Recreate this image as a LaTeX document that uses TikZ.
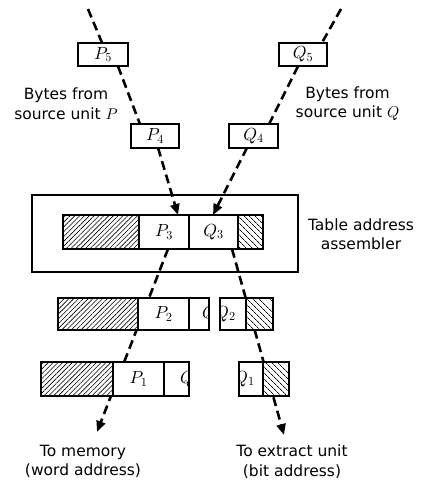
\documentclass[tikz,border=0pt]{standalone}
\usepackage{fontspec}
\setmainfont{DejaVu Sans}
\DeclareFontShape{OML}{cmm}{m}{it}{<->cmmi10}{}
\DeclareFontShape{OT1}{cmr}{m}{n}{<->cmr10}{}
\usetikzlibrary{arrows.meta, positioning, patterns.meta}

\begin{document}
\begin{tikzpicture}[
        x=1pt, y=-1pt,
        every node/.style={font=\fontsize{15.5}{19.5}\selectfont},
        cell/.style={draw, line width=1.6pt, fill=white, inner sep=0pt, outer sep=0pt, minimum height=34pt,
            font=\fontsize{17.5}{20}\selectfont},
        hatchL/.style={cell, preaction={fill=white}, pattern={Lines[angle=45, distance=3.4pt, line width=0.6pt]}},
        hatchR/.style={cell, preaction={fill=white}, pattern={Lines[angle=-45, distance=4pt, line width=0.7pt]}},
        byte/.style={cell, minimum width=49pt, minimum height=23.5pt},
        part/.style={anchor=west, inner sep=0pt, font=\fontsize{17.5}{20}\selectfont},
        flow/.style={line width=2.6pt, dash pattern=on 9pt off 5pt},
        flowarrow/.style={flow, -{Triangle[length=11pt, width=9pt]}},
        note/.style={align=center}
    ]

    \useasboundingbox (0,0) rectangle (422,483);

    % incoming bytes
    \node[byte, minimum width=50pt] (P5) at (103,54.5) {$P_5$};
    \node[byte, minimum width=48pt] (P4) at (155,136) {$P_4$};
    \node[byte, minimum width=48pt] (Q5) at (303,54.5) {$Q_5$};
    \node[byte] (Q4) at (253.5,136) {$Q_4$};

    \coordinate (pIn) at (88,9);
    \coordinate (qIn) at (341,9);
    \coordinate (memOut) at (97,432);
    \coordinate (extOut) at (284,435);

    \node[note] (labP) at (66,103.5) {Bytes from\\source unit~$P$};
    \node[note] (labQ) at (347.5,103.5) {Bytes from\\source unit~$Q$};

    % assembler
    \node[draw, line width=1.2pt, inner sep=0pt, minimum width=266pt, minimum height=77pt] (asm) at (165,233.5) {};
    \node[note] (labAsm) at (361,234) {Table address\\assembler};

    \node[hatchL, minimum width=76pt] (hL3) at (101,232) {};
    \node[cell, minimum width=50pt, right=0pt of hL3] (P3) {$P_3$};
    \node[cell, minimum width=49pt, right=0pt of P3] (Q3) {$Q_3$};
    \node[hatchR, minimum width=25pt, right=0pt of Q3] (hR3) {};

    \draw[flow] (pIn) -- ([xshift=-1pt]P5.north);
    \draw[flow] ([xshift=15pt]P5.south) -- ([xshift=-15pt]P4.north);
    \draw[flowarrow] ([xshift=3pt]P4.south) -- ([xshift=14pt]P3.north);
    \draw[flow] (qIn) -- ([xshift=19pt]Q5.north);
    \draw[flow] ([xshift=-5pt]Q5.south) -- ([xshift=15.5pt]Q4.north);
    \draw[flowarrow] ([xshift=-6.5pt]Q4.south) -- ([xshift=-0.5pt]Q3.north);

    % outgoing parts, behind the shifted rows
    \draw[flowarrow] ([xshift=4pt]P3.south) -- (memOut);
    \draw[flowarrow] ([xshift=18.5pt]Q3.south) -- (extOut);

    % row after first shift
    \node[hatchL, minimum width=80pt, minimum height=32pt] (hL2) at (98,314) {};
    \node[cell, minimum width=51pt, minimum height=32pt, right=0pt of hL2] (P2) {$P_2$};
    \node[cell, minimum width=20pt, minimum height=32pt, right=0pt of P2] (Qa2) {};
    \node[cell, minimum width=26pt, minimum height=32pt, right=11pt of Qa2] (Qb2) {};
    \node[hatchR, minimum width=27pt, minimum height=32pt, right=0pt of Qb2] (hR2) {};
    \begin{scope}
        \clip (Qa2.south west) rectangle (Qa2.north east);
        \node[part] (qa2t) at ([xshift=13pt]Qa2.west) {$Q$};
    \end{scope}
    \begin{scope}
        \clip (Qb2.south west) rectangle (Qb2.north east);
        \node[part] (qb2t) at ([xshift=-5pt]Qb2.west) {$Q_2$};
    \end{scope}

    % row after second shift
    \node[hatchL, minimum width=72pt] (hL1) at (77,379) {};
    \node[cell, minimum width=51pt, right=0pt of hL1] (P1) {$P_1$};
    \node[cell, minimum width=25pt, right=0pt of P1] (Qa1) {};
    \node[cell, minimum width=24pt, right=50pt of Qa1] (Qb1) {};
    \node[hatchR, minimum width=26pt, right=0pt of Qb1] (hR1) {};
    \begin{scope}
        \clip (Qa1.south west) rectangle (Qa1.north east);
        \node[part] (qa1t) at ([xshift=16pt]Qa1.west) {$Q$};
    \end{scope}
    \begin{scope}
        \clip (Qb1.south west) rectangle (Qb1.north east);
        \node[part] (qb1t) at ([xshift=-5pt]Qb1.west) {$Q_1$};
    \end{scope}

    \node[note] (labMem) at (83,461.5) {To memory\\(word address)};
    \node[note] (labExt) at (292,461.5) {To extract unit\\(bit address)};
\end{tikzpicture}
\end{document}
